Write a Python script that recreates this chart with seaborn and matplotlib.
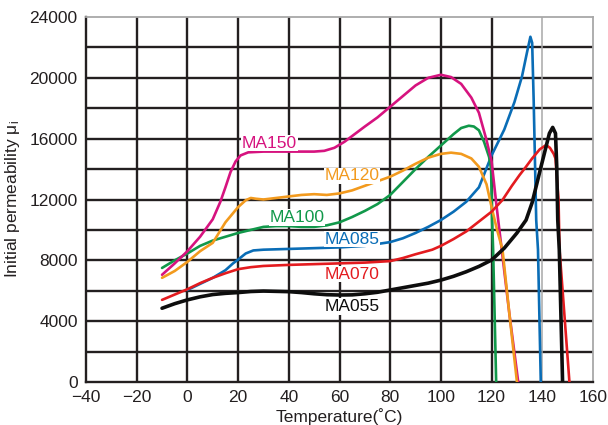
import matplotlib
matplotlib.use('Agg')
import matplotlib.pyplot as plt
import numpy as np
import pandas as pd
import seaborn as sns

sns.set_style('white')
plt.rcParams['font.family'] = ['Liberation Sans', 'DejaVu Sans']
plt.rcParams['axes.unicode_minus'] = True

# curve data (temperature in degC, initial permeability)
t_ma150 = [-10, -5, 0, 5, 10, 13, 15, 17, 19, 21, 24, 30, 40, 50, 54, 58, 62, 66, 70, 75, 80,
           85, 90, 95, 100, 104, 108, 112, 115, 118, 120, 122, 124, 127, 130.5]
mu_ma150 = [7050, 7800, 8600, 9550, 10700, 11850, 12800, 13800, 14500, 14900, 15100, 15150, 15150,
            15150, 15200, 15400, 15800, 16300, 16800, 17400, 18100, 18800, 19500, 20000, 20200,
            20050, 19600, 18700, 17700, 15900, 14500, 11500, 8700, 4500, 0]

t_ma120 = [-10, -5, 0, 5, 10, 15, 20, 23, 25, 27, 30, 35, 40, 45, 50, 55, 60, 65, 70, 75, 80,
           85, 90, 95, 100, 104, 108, 112, 115, 118, 120, 122, 124.3, 127, 130]
mu_ma120 = [6850, 7300, 7900, 8600, 9150, 10500, 11500, 11950, 12100, 12050, 12000, 12100, 12200,
            12300, 12350, 12300, 12400, 12600, 12900, 13200, 13500, 13900, 14350, 14750, 15000,
            15080, 15000, 14700, 14150, 13000, 11500, 10100, 8700, 4500, 0]

t_ma100 = [-10, -5, 0, 5, 10, 15, 20, 25, 30, 35, 40, 45, 50, 55, 60, 65, 70, 75, 80, 85, 90,
           95, 100, 105, 108, 111, 113, 115, 117, 119, 119.8, 120.2, 120.6, 121.8]
mu_ma100 = [7500, 8000, 8450, 8950, 9300, 9550, 9800, 10000, 10200, 10250, 10250, 10200, 10200,
            10300, 10500, 10850, 11250, 11700, 12300, 13150, 14000, 14800, 15550, 16300, 16700,
            16850, 16800, 16550, 15800, 14800, 14000, 10600, 8700, 0]

t_ma085 = [0, 5, 10, 15, 18, 20, 23, 26, 30, 40, 50, 60, 70, 80, 85, 90, 95, 100, 105, 110,
           115, 120, 125, 129, 132, 134, 135.3, 136, 136.6, 137.6, 138.3, 139.4]
mu_ma085 = [6050, 6450, 6850, 7350, 7800, 8050, 8450, 8650, 8700, 8750, 8800, 8850, 8950, 9200,
            9450, 9800, 10200, 10650, 11200, 11850, 12800, 14900, 16600, 18400, 20100, 21700,
            22700, 22300, 18500, 10650, 8700, 0]

t_ma070 = [-10, -5, 0, 5, 10, 15, 20, 25, 30, 40, 50, 60, 70, 80, 85, 90, 96.6, 100, 105, 110,
           115, 120, 124.3, 128, 131, 133.6, 136, 139, 141.5, 143, 144.5, 145.2, 146.4, 146.8, 150.7]
mu_ma070 = [5400, 5750, 6100, 6500, 6850, 7150, 7420, 7550, 7630, 7700, 7750, 7800, 7850, 7950,
            8150, 8400, 8700, 8950, 9400, 9900, 10550, 11200, 11970, 12900, 13600, 14160, 14700,
            15300, 15580, 15400, 15000, 14700, 12000, 8700, 0]

t_ma055 = [-10, -5, 0, 5, 10, 15, 20, 25, 30, 35, 40, 45, 50, 55, 60, 65, 70, 75, 80, 85, 90,
           95, 100, 105, 110, 115, 120, 125, 130, 133.6, 136, 139.5, 142.8, 144.1, 145.2, 145.7,
           146.1, 146.7, 148]
mu_ma055 = [4850, 5150, 5400, 5600, 5750, 5830, 5880, 5950, 5980, 5960, 5940, 5880, 5800, 5740,
            5720, 5730, 5800, 5900, 6050, 6200, 6350, 6500, 6700, 6950, 7250, 7600, 8020, 8800,
            9800, 10650, 11800, 14160, 16350, 16740, 16350, 14160, 10650, 8700, 0]

names = ['MA085', 'MA100', 'MA150', 'MA120', 'MA070', 'MA055']
temps = [t_ma085, t_ma100, t_ma150, t_ma120, t_ma070, t_ma055]
perms = [mu_ma085, mu_ma100, mu_ma150, mu_ma120, mu_ma070, mu_ma055]
colors = ['#0a6db6', '#11984a', '#d6137f', '#f29a1e', '#e31b1f', '#0d0d0d']
widths = [1.9, 1.9, 1.9, 1.9, 1.9, 2.6]

# label positions (degC, permeability)
label_t = [64.9, 43.2, 32.3, 64.9, 64.9, 64.9]
label_mu = [9400, 10820, 15700, 13550, 7100, 4960]

fig = plt.figure(figsize=(6.08, 4.25), dpi=100)
ax = fig.add_axes([86 / 608, 43 / 425, 507 / 608, 365 / 425])

grid_col = '#231f20'
for yv in np.arange(2000, 24000, 2000):
    ax.axhline(yv, color=grid_col, lw=1.7, zorder=1)
for xv in np.arange(-20, 160, 20):
    if xv == 140:
        ax.axvline(xv, color='#a8a8a8', lw=1.1, zorder=1)
    else:
        ax.axvline(xv, color=grid_col, lw=1.7, zorder=1)

for name, t, mu, c, w in zip(names, temps, perms, colors, widths):
    df = pd.DataFrame({'t': t, 'mu': mu})
    sns.lineplot(data=df, x='t', y='mu', color=c, lw=w, estimator=None, sort=False,
                 ax=ax, zorder=3)

for name, lt, lm, c in zip(names, label_t, label_mu, colors):
    ax.text(lt, lm, name, color=c, fontsize=12.5, ha='center', va='center', zorder=4,
            bbox=dict(facecolor='white', edgecolor='none', pad=0.5))

ax.set_xlim(-40, 160)
ax.set_ylim(0, 24000)
ax.set_xticks(np.arange(-40, 161, 20))
ax.set_yticks(np.arange(0, 24001, 4000))
ax.tick_params(length=0, labelsize=12.5, colors='#231f20')
ax.tick_params(axis='x', pad=6)
ax.tick_params(axis='y', pad=6)
for side in ['left', 'bottom']:
    ax.spines[side].set_color(grid_col)
    ax.spines[side].set_linewidth(1.7)
for side in ['top', 'right']:
    ax.spines[side].set_color('#a8a8a8')
    ax.spines[side].set_linewidth(1.3)

ax.set_xlabel('Temperature(˚C)', fontsize=12.5, color='#231f20', labelpad=2)
ax.set_ylabel(r'Initial permeability $\mathregular{\mu_i}$', fontsize=12.5, color='#231f20',
              labelpad=5)

fig.savefig('out.png', dpi=100)
